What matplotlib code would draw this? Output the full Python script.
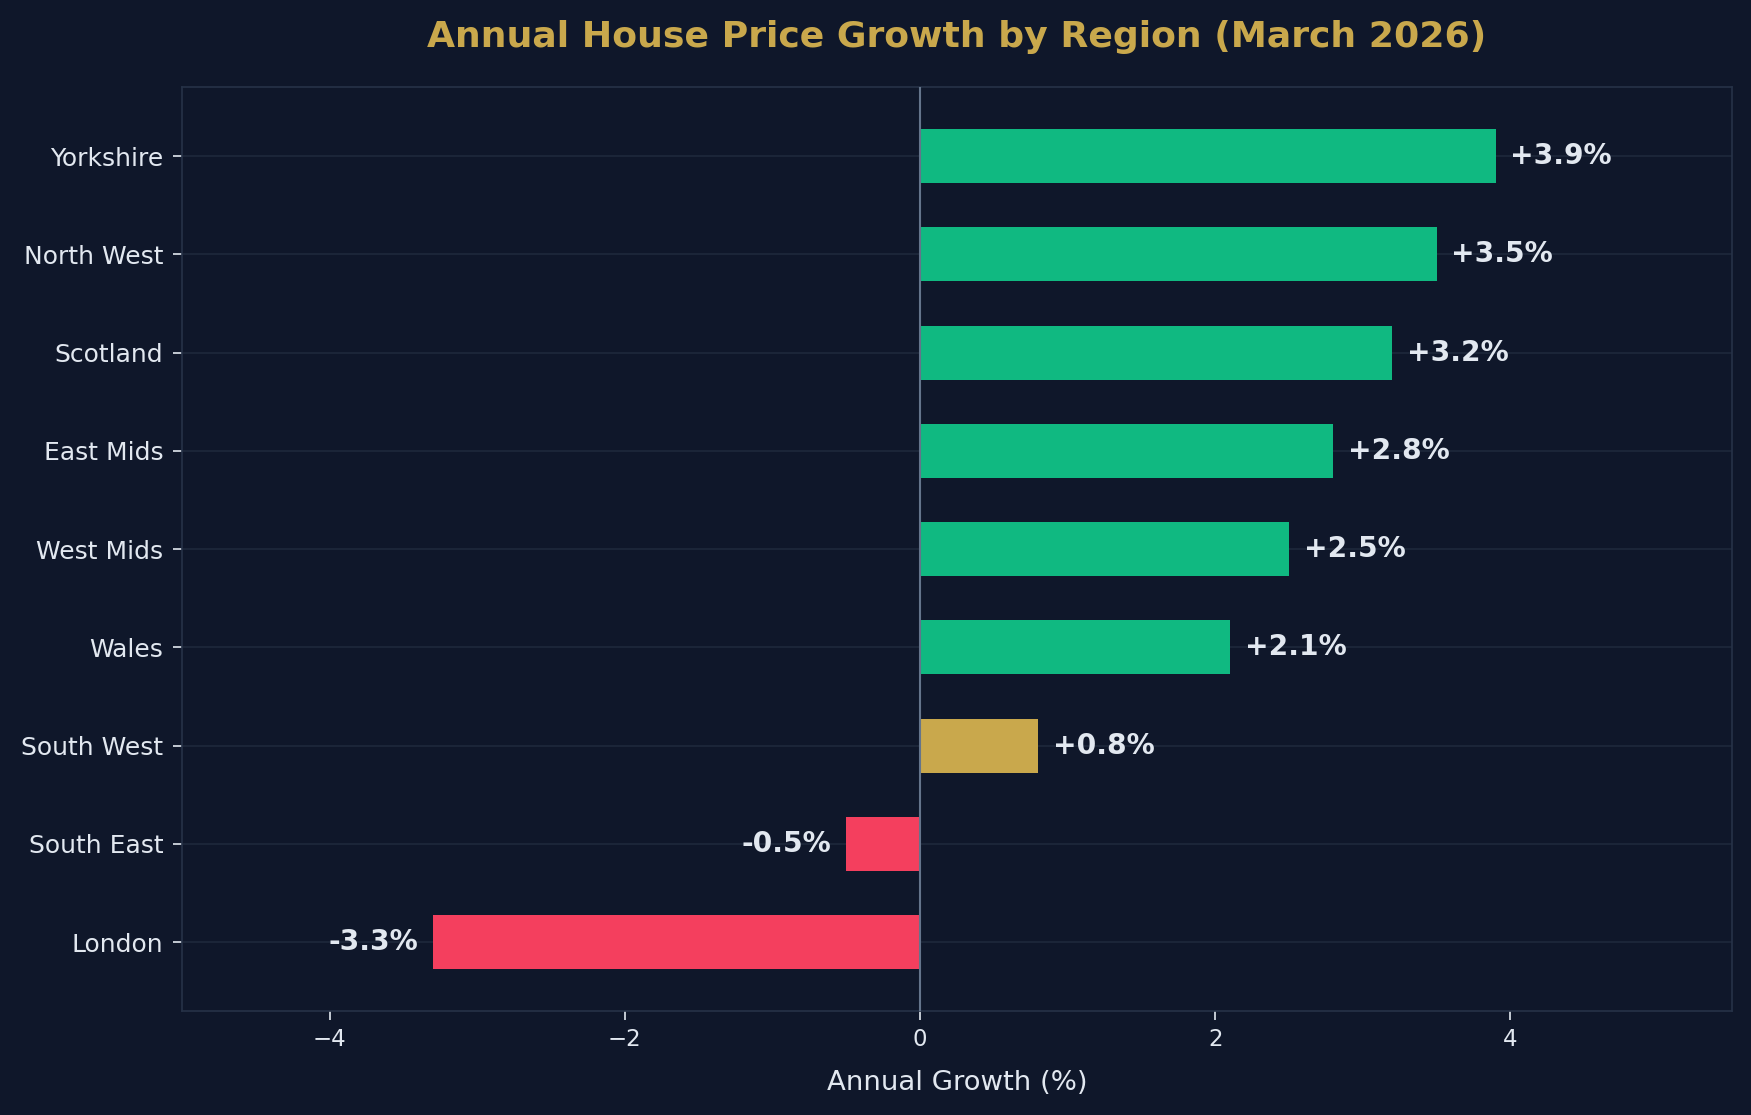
import matplotlib
matplotlib.use("Agg")
import matplotlib.pyplot as plt

# data (bottom to top)
regions = ['London', 'South East', 'South West', 'Wales', 'West Mids',
           'East Mids', 'Scotland', 'North West', 'Yorkshire']
growth = [-3.3, -0.5, 0.8, 2.1, 2.5, 2.8, 3.2, 3.5, 3.9]

bg = '#0f172a'
txt = '#e2e8f0'
green = '#10b981'
red = '#f43f5e'
gold = '#c9a84c'

colors = []
for v in growth:
    if v < 0:
        colors.append(red)
    elif v < 1:
        colors.append(gold)
    else:
        colors.append(green)

fig, ax = plt.subplots(figsize=(1751/150, 1115/150), dpi=150)
fig.patch.set_facecolor(bg)
ax.set_facecolor(bg)
fig.subplots_adjust(left=0.104, right=0.989, top=0.922, bottom=0.093)

ax.barh(regions, growth, color=colors, height=0.55, zorder=3)
ax.axvline(0, color='#64748b', lw=1, zorder=4)

for i, v in enumerate(growth):
    if v >= 0:
        ax.text(v + 0.1, i, f'{v:+.1f}%', va='center', ha='left',
                color=txt, fontsize=13.5, fontweight='bold', zorder=5)
    else:
        ax.text(v - 0.1, i, f'{v:+.1f}%', va='center', ha='right',
                color=txt, fontsize=13.5, fontweight='bold', zorder=5)

ax.set_xlim(-5, 5.5)
ax.set_xlabel('Annual Growth (%)', color=txt, fontsize=13.2, labelpad=9)
ax.set_title('Annual House Price Growth by Region (March 2026)',
             color=gold, fontsize=17.4, fontweight='bold', pad=19)

ax.tick_params(colors=txt, length=4.5)
ax.tick_params(axis='x', labelsize=11)
ax.tick_params(axis='y', labelsize=12, pad=4.5)
ax.grid(axis='y', color='#1e293b', lw=0.8, zorder=0)
for s in ax.spines.values():
    s.set_color('#263247')

plt.savefig('out.png', dpi=150, facecolor=bg)
